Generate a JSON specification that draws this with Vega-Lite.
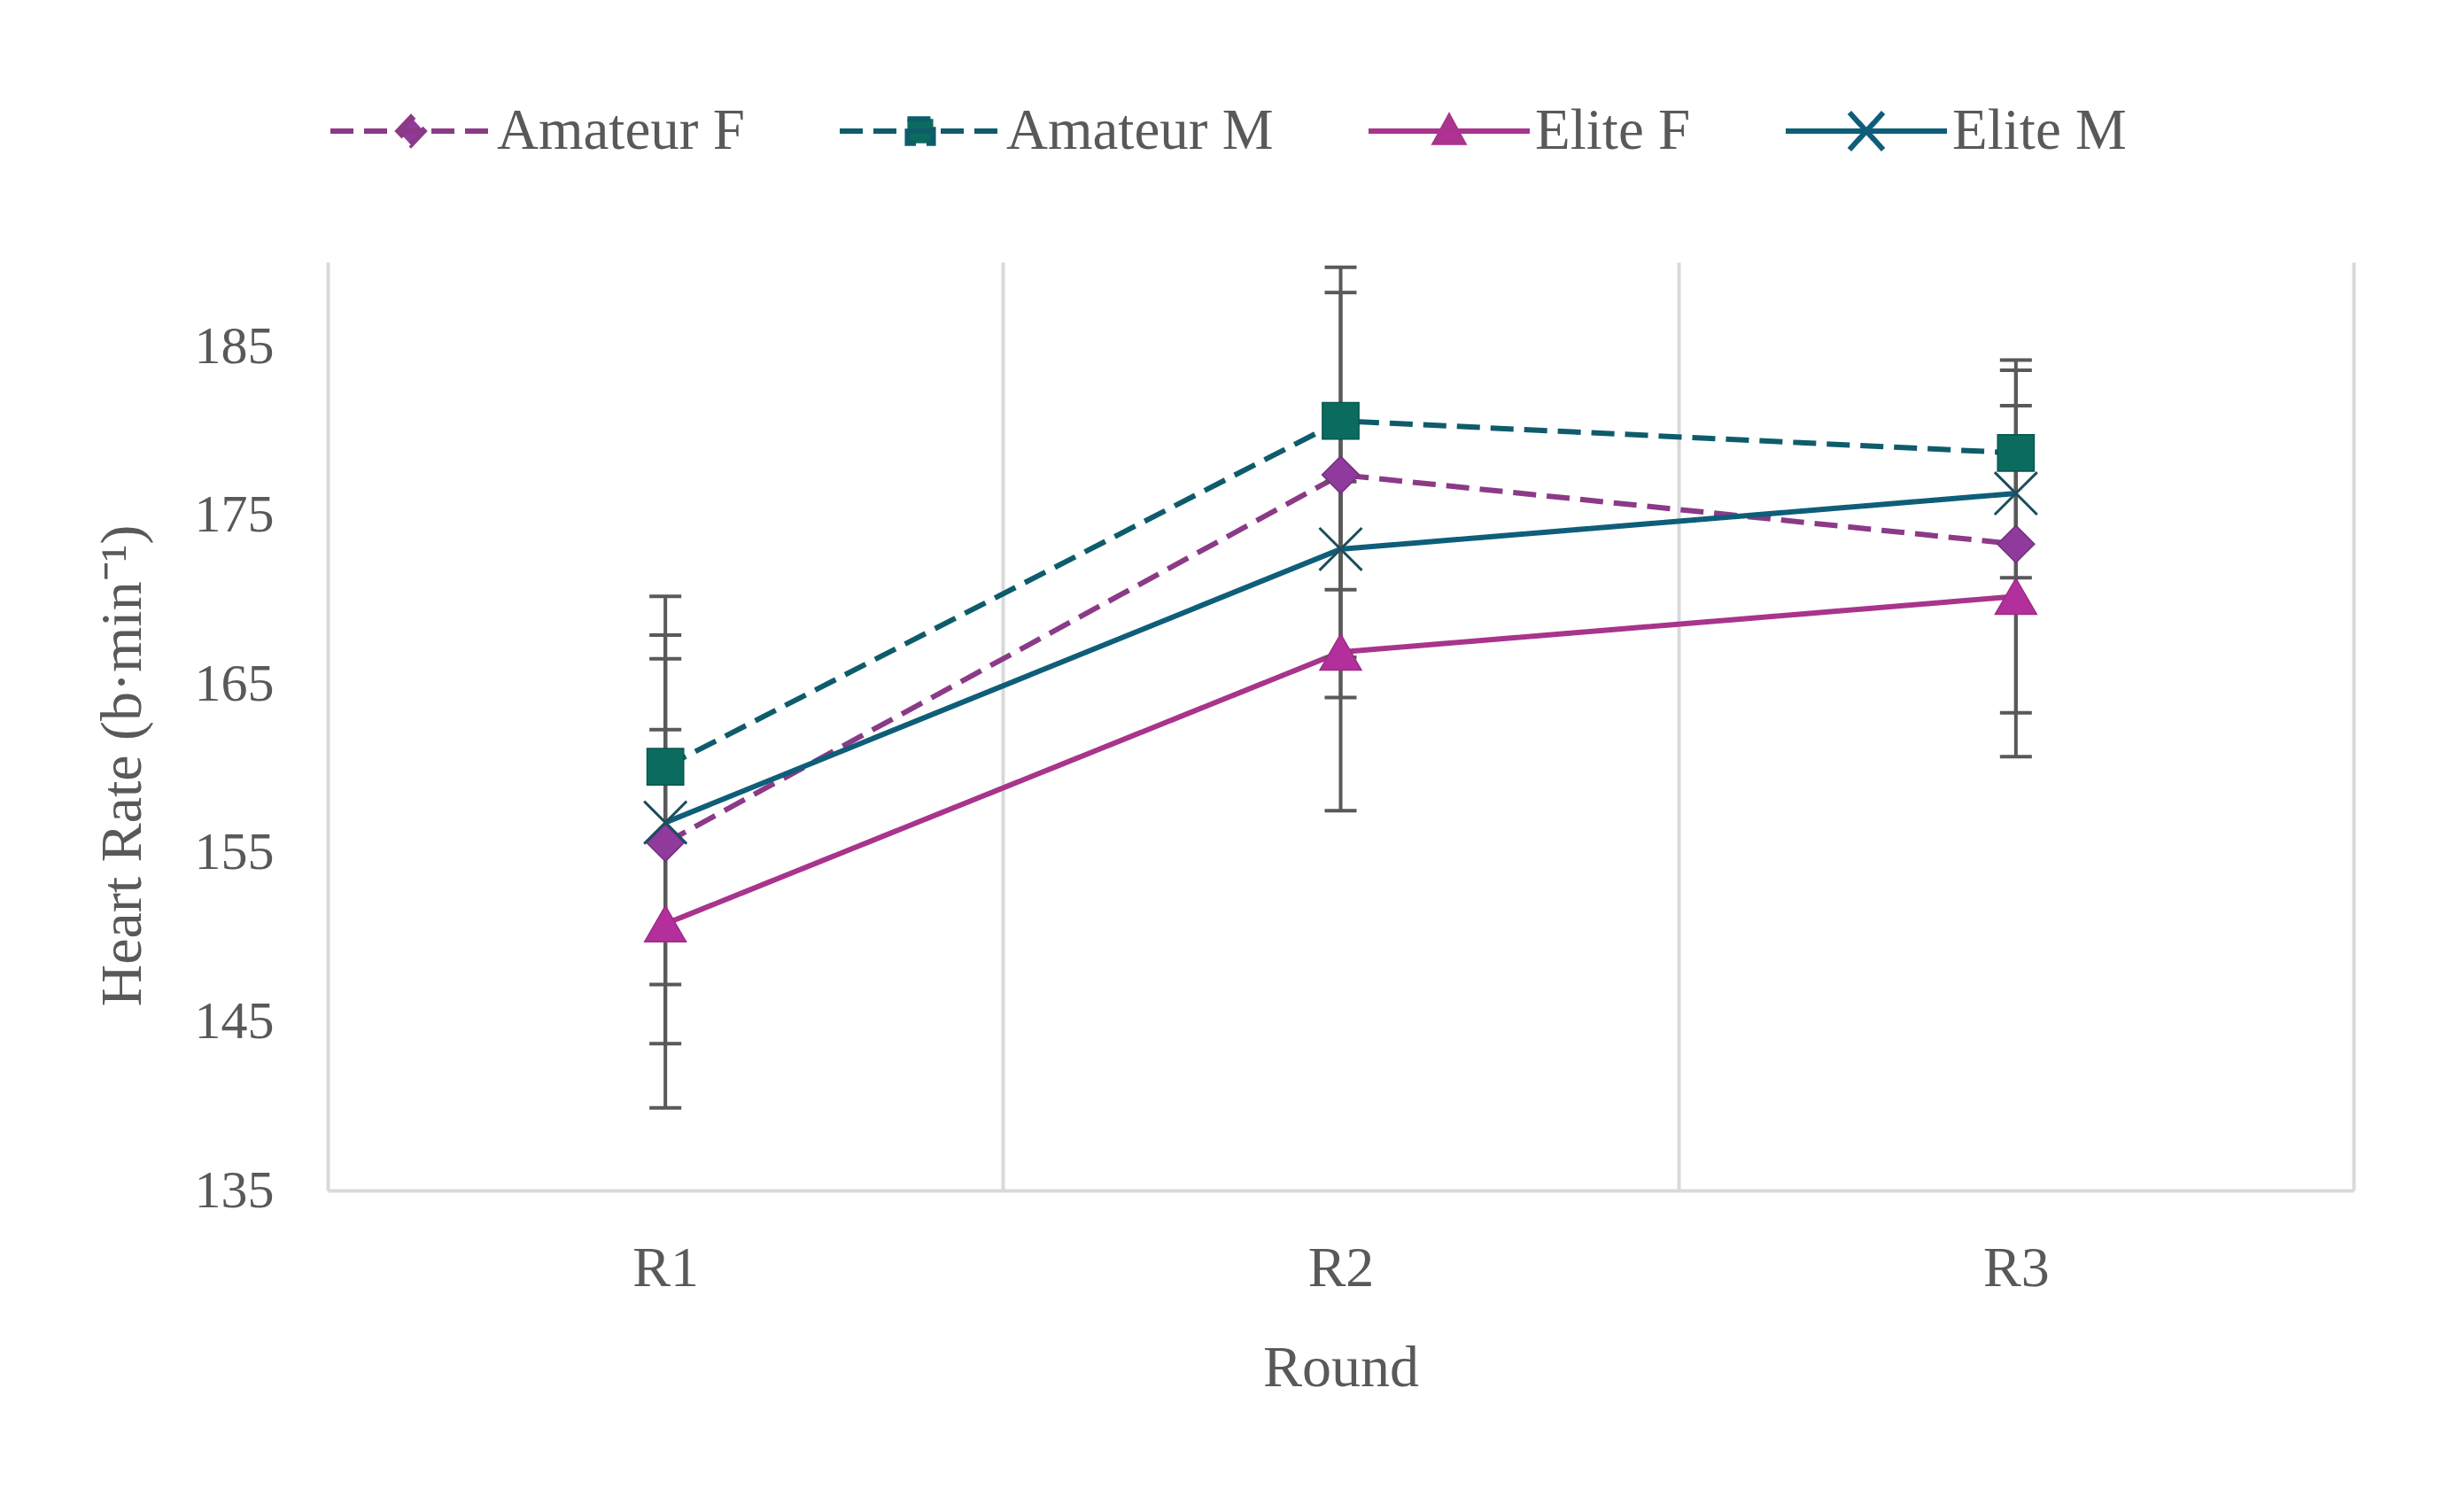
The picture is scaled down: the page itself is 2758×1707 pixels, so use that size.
{
  "$schema": "https://vega.github.io/schema/vega-lite/v6.json",
  "width": 2287,
  "height": 1048,
  "autosize": "none",
  "padding": {"left": 370, "top": 296, "right": 101, "bottom": 363},
  "background": "white",
  "config": {
    "view": {"stroke": null},
    "font": "Liberation Serif",
    "legend": {
      "padding": 0,
      "symbolSize": 33124,
      "symbolStrokeWidth": 6,
      "labelFont": "Liberation Serif",
      "labelFontSize": 65,
      "labelColor": "#595959",
      "labelOffset": 3,
      "labelLimit": 2000,
      "labelBaseline": "middle",
      "columnPadding": 95,
      "symbolOpacity": 1
    }
  },
  "data": {
    "values": [
      {"round": "R1", "series": "Amateur F", "hr": 155.6, "lo": 143.7, "hi": 167.9},
      {"round": "R1", "series": "Amateur M", "hr": 160.1, "lo": 149.9, "hi": 170.2},
      {"round": "R1", "series": "Elite F", "hr": 150.8, "lo": 139.9, "hi": 162.3},
      {"round": "R1", "series": "Elite M", "hr": 156.8, "lo": 147.2, "hi": 166.5},
      {"round": "R2", "series": "Amateur F", "hr": 177.4, "lo": 166.6, "hi": 188.2},
      {"round": "R2", "series": "Amateur M", "hr": 180.6, "lo": 170.6, "hi": 189.7},
      {"round": "R2", "series": "Elite F", "hr": 166.9, "lo": 157.5, "hi": 177.0},
      {"round": "R2", "series": "Elite M", "hr": 173.0, "lo": 164.2, "hi": 181.0},
      {"round": "R3", "series": "Amateur F", "hr": 173.3, "lo": 163.3, "hi": 183.6},
      {"round": "R3", "series": "Amateur M", "hr": 178.7, "lo": 173.2, "hi": 184.2},
      {"round": "R3", "series": "Elite F", "hr": 170.2, "lo": 160.7, "hi": 179.7},
      {"round": "R3", "series": "Elite M", "hr": 176.3, "lo": 171.3, "hi": 181.5}
    ]
  },
  "encoding": {
    "x": {
      "field": "round",
      "type": "nominal",
      "bandPosition": 0.5,
      "scale": {"type": "band", "domain": ["R1", "R2", "R3"], "paddingInner": 0, "paddingOuter": 0},
      "axis": {
        "title": "Round",
        "tickBand": "extent",
        "grid": true,
        "gridColor": "#D9D9D9",
        "gridWidth": 4,
        "ticks": false,
        "domainColor": "#D9D9D9",
        "domainWidth": 4,
        "labelAngle": 0,
        "labelFont": "Liberation Serif",
        "labelFontSize": 64,
        "labelColor": "#595959",
        "labelBaseline": "alphabetic",
        "labelPadding": 107,
        "titleFont": "Liberation Serif",
        "titleFontSize": 66,
        "titleFontWeight": "normal",
        "titleColor": "#595959",
        "titleBaseline": "alphabetic",
        "titleY": 220
      }
    }
  },
  "layer": [
    {
      "mark": {"type": "line", "strokeWidth": 6},
      "encoding": {
        "y": {
          "field": "hr",
          "type": "quantitative",
          "scale": {"domain": [135, 190], "nice": false, "zero": false},
          "axis": {
            "title": "Heart Rate (b·min⁻¹)",
            "values": [135, 145, 155, 165, 175, 185],
            "grid": false,
            "domain": false,
            "ticks": false,
            "labelPadding": 61,
            "labelFont": "Liberation Serif",
            "labelFontSize": 60,
            "labelColor": "#595959",
            "titleFont": "Liberation Serif",
            "titleFontSize": 66,
            "titleFontWeight": "normal",
            "titleColor": "#595959",
            "titleX": -232,
            "titleY": 568,
            "titleAlign": "center",
            "titleBaseline": "middle"
          }
        },
        "stroke": {
          "field": "series",
          "type": "nominal",
          "scale": {"domain": ["Amateur F", "Amateur M", "Elite F", "Elite M"], "range": ["#8B3A87", "#0E5C6B", "#A8348C", "#0F5E79"]},
          "legend": {"title": null, "orient": "none", "legendX": 0, "legendY": -242, "direction": "horizontal"}
        },
        "strokeDash": {
          "field": "series",
          "type": "nominal",
          "scale": {"domain": ["Amateur F", "Amateur M", "Elite F", "Elite M"], "range": [[26, 12], [26, 12], [1, 0], [1, 0]]},
          "legend": {"title": null, "orient": "none", "legendX": 0, "legendY": -242, "direction": "horizontal"}
        }
      }
    },
    {
      "mark": {"type": "rule", "color": "#595959", "strokeWidth": 4},
      "encoding": {
        "y": {"field": "lo", "type": "quantitative", "scale": {"domain": [135, 190], "nice": false, "zero": false}},
        "y2": {"field": "hi"}
      }
    },
    {
      "mark": {"type": "tick", "orient": "horizontal", "color": "#595959", "size": 36, "thickness": 4, "opacity": 1},
      "encoding": {
        "y": {"field": "lo", "type": "quantitative", "scale": {"domain": [135, 190], "nice": false, "zero": false}}
      }
    },
    {
      "mark": {"type": "tick", "orient": "horizontal", "color": "#595959", "size": 36, "thickness": 4, "opacity": 1},
      "encoding": {
        "y": {"field": "hi", "type": "quantitative", "scale": {"domain": [135, 190], "nice": false, "zero": false}}
      }
    },
    {
      "transform": [{"filter": "datum.series === 'Amateur F'"}],
      "mark": {"type": "point", "shape": "diamond", "filled": true, "fill": "#8F3A9C", "stroke": "#72307F", "strokeWidth": 1.5, "size": 1764, "opacity": 1},
      "encoding": {
        "y": {"field": "hr", "type": "quantitative", "scale": {"domain": [135, 190], "nice": false, "zero": false}}
      }
    },
    {
      "transform": [{"filter": "datum.series === 'Amateur M'"}],
      "mark": {"type": "point", "shape": "square", "filled": true, "fill": "#0B6B5F", "stroke": "#08574E", "strokeWidth": 1.5, "size": 1700, "opacity": 1},
      "encoding": {
        "y": {"field": "hr", "type": "quantitative", "scale": {"domain": [135, 190], "nice": false, "zero": false}}
      }
    },
    {
      "transform": [{"filter": "datum.series === 'Elite F'"}],
      "mark": {"type": "point", "shape": "triangle-up", "filled": true, "fill": "#B32F9B", "stroke": "#9C2C86", "strokeWidth": 1.5, "size": 2200, "opacity": 1},
      "encoding": {
        "y": {"field": "hr", "type": "quantitative", "scale": {"domain": [135, 190], "nice": false, "zero": false}}
      }
    },
    {
      "transform": [{"filter": "datum.series === 'Elite M'"}],
      "mark": {"type": "point", "shape": "M-1,-1L1,1M-1,1L1,-1", "filled": false, "stroke": "#1D4E5C", "strokeWidth": 3, "size": 2300, "opacity": 1},
      "encoding": {
        "y": {"field": "hr", "type": "quantitative", "scale": {"domain": [135, 190], "nice": false, "zero": false}}
      }
    },
    {
      "transform": [{"filter": "datum.hr < 0"}],
      "mark": {"type": "point", "filled": true, "strokeWidth": 6, "opacity": 1},
      "encoding": {
        "y": {"field": "hr", "type": "quantitative", "scale": {"domain": [135, 190], "nice": false, "zero": false}},
        "stroke": {
          "field": "series",
          "type": "nominal",
          "scale": {"domain": ["Amateur F", "Amateur M", "Elite F", "Elite M"], "range": ["#8B3A87", "#0E5C6B", "#A8348C", "#0F5E79"]},
          "legend": {"title": null, "orient": "none", "legendX": 0, "legendY": -242, "direction": "horizontal"}
        },
        "strokeDash": {
          "field": "series",
          "type": "nominal",
          "scale": {"domain": ["Amateur F", "Amateur M", "Elite F", "Elite M"], "range": [[26, 12], [26, 12], [1, 0], [1, 0]]},
          "legend": {"title": null, "orient": "none", "legendX": 0, "legendY": -242, "direction": "horizontal"}
        },
        "fill": {
          "field": "series",
          "type": "nominal",
          "scale": {"domain": ["Amateur F", "Amateur M", "Elite F", "Elite M"], "range": ["#8F3A9C", "#0B6B5F", "#B32F9B", "#1D4E5C"]},
          "legend": {"title": null, "orient": "none", "legendX": 0, "legendY": -242, "direction": "horizontal"}
        },
        "shape": {
          "field": "series",
          "type": "nominal",
          "scale": {
            "domain": ["Amateur F", "Amateur M", "Elite F", "Elite M"],
            "range": [
              "M-1,0L1,0M-0.16,0L0,-0.17L0.16,0L0,0.17Z",
              "M-1,0L1,0M-0.16,-0.15L0.16,-0.15L0.16,0.15L-0.16,0.15Z",
              "M-1,0L1,0M0,-0.17L0.17,0.14L-0.17,0.14Z",
              "M-1,0L1,0M-0.21,-0.23L0.21,0.23M-0.21,0.23L0.21,-0.23"
            ]
          },
          "legend": {"title": null, "orient": "none", "legendX": 0, "legendY": -242, "direction": "horizontal"}
        }
      }
    }
  ]
}
